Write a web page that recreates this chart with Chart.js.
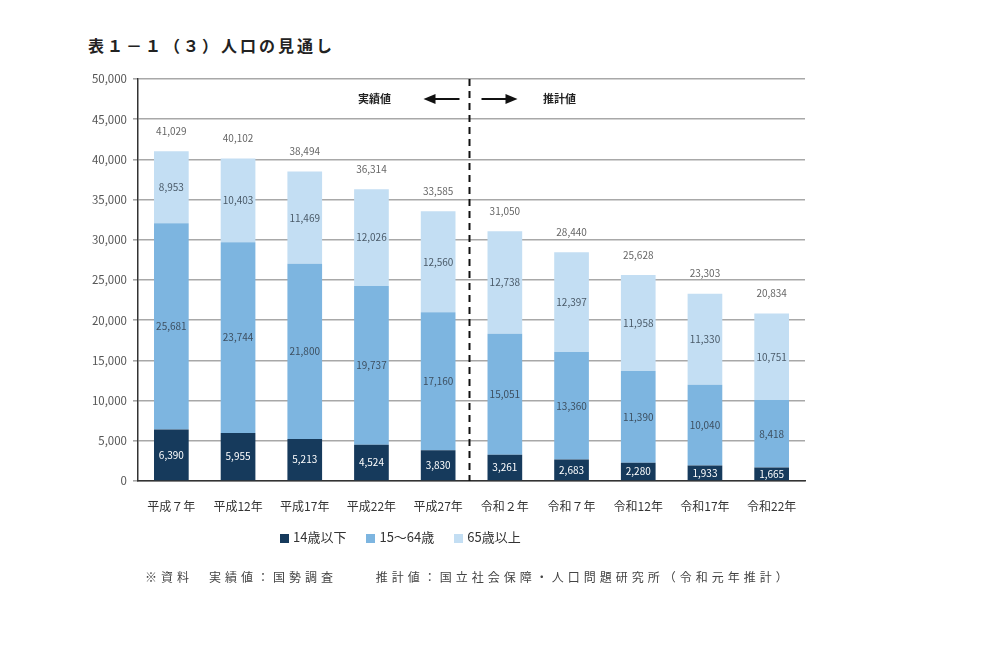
<!DOCTYPE html>
<html lang="ja">
<head>
<meta charset="utf-8">
<script src="https://cdn.jsdelivr.net/npm/chart.js@4"></script>
<style>
  body { margin: 0; background: #fff; font-family: "Noto Sans CJK JP", sans-serif; }
  #wrap { position: relative; width: 1000px; height: 662px; }
  #chart { position: absolute; left: 0; top: 0; }
  .title { position: absolute; left: 88px; top: 33px; font-size: 16px; letter-spacing: 3px; font-weight: bold; color: #222; }
  .legend { position: absolute; top: 527px; left: 280px; font-size: 13px; color: #333; display: flex; gap: 20px; }
  .legend span i { display: inline-block; width: 9px; height: 9px; margin-right: 4px; vertical-align: -1px; }
  .note { position: absolute; top: 568px; left: 145px; font-size: 12px; letter-spacing: 4px; color: #444; white-space: pre; }
</style>
</head>
<body>
<div id="wrap">
  <div class="title">表１－１（３）人口の見通し</div>
  <canvas id="chart" width="1000" height="662"></canvas>
  <div class="legend">
    <span><i style="background:#163a5c"></i>14歳以下</span>
    <span><i style="background:#7db5e0"></i>15～64歳</span>
    <span><i style="background:#c3def3"></i>65歳以上</span>
  </div>
  <div class="note">※資料　実績値：国勢調査　　 推計値：国立社会保障・人口問題研究所（令和元年推計）</div>
</div>
<script>
// データ
const nendo = ['平成７年', '平成12年', '平成17年', '平成22年', '平成27年', '令和２年', '令和７年', '令和12年', '令和17年', '令和22年'];
const nenshou = [6390, 5955, 5213, 4524, 3830, 3261, 2683, 2280, 1933, 1665];
const seisan = [25681, 23744, 21800, 19737, 17160, 15051, 13360, 11390, 10040, 8418];
const kourei = [8953, 10403, 11469, 12026, 12560, 12738, 12397, 11958, 11330, 10751];
const goukei = [41029, 40102, 38494, 36314, 33585, 31050, 28440, 25628, 23303, 20834];
const yTicks = [0, 5000, 10000, 15000, 20000, 25000, 30000, 35000, 40000, 45000, 50000];

const fmt = v => v.toLocaleString('en-US');
const fuente = '"Noto Sans CJK JP", sans-serif';

// 値ラベル・合計・区切り線
const etiquetas = {
  id: 'etiquetas',
  afterDatasetsDraw(chart) {
    const c = chart.ctx;
    const colores = ['#ffffff', '#3d4f60', '#4a5a68'];
    c.save();
    c.font = '10px ' + fuente;
    c.textAlign = 'center';
    c.textBaseline = 'middle';
    chart.data.datasets.forEach((ds, i) => {
      chart.getDatasetMeta(i).data.forEach((bar, j) => {
        c.fillStyle = colores[i];
        c.fillText(fmt(ds.data[j]), bar.x, (bar.y + bar.base) / 2);
      });
    });
    const top = chart.getDatasetMeta(2).data;
    c.fillStyle = '#666';
    top.forEach((bar, j) => c.fillText(fmt(goukei[j]), bar.x, bar.y - 20));

    // 実績値 / 推計値 区切り
    const xs = chart.scales.x;
    const xm = (xs.getPixelForValue(4) + xs.getPixelForValue(5)) / 2 - 2;
    const area = chart.chartArea;
    c.strokeStyle = '#111';
    c.lineWidth = 2;
    c.setLineDash([7, 5]);
    c.beginPath();
    c.moveTo(xm, area.top);
    c.lineTo(xm, area.bottom);
    c.stroke();
    c.setLineDash([]);

    const ya = area.top + 20;
    c.lineWidth = 2;
    c.fillStyle = '#111';
    // 左矢印
    c.beginPath(); c.moveTo(xm - 10, ya); c.lineTo(xm - 36, ya); c.stroke();
    c.beginPath(); c.moveTo(xm - 46, ya); c.lineTo(xm - 34, ya - 5); c.lineTo(xm - 34, ya + 5); c.closePath(); c.fill();
    // 右矢印
    c.beginPath(); c.moveTo(xm + 12, ya); c.lineTo(xm + 38, ya); c.stroke();
    c.beginPath(); c.moveTo(xm + 48, ya); c.lineTo(xm + 36, ya - 5); c.lineTo(xm + 36, ya + 5); c.closePath(); c.fill();

    c.font = 'bold 11px ' + fuente;
    c.fillStyle = '#222';
    c.fillText('実績値', xm - 95, ya);
    c.fillText('推計値', xm + 90, ya);
    c.restore();
  }
};

new Chart(document.getElementById('chart'), {
  type: 'bar',
  data: {
    labels: nendo,
    datasets: [
      { label: '14歳以下', data: nenshou, backgroundColor: '#163a5c' },
      { label: '15～64歳', data: seisan, backgroundColor: '#7db5e0' },
      { label: '65歳以上', data: kourei, backgroundColor: '#c3def3' }
    ]
  },
  options: {
    responsive: false,
    animation: false,
    layout: { padding: { left: 0, right: 195, top: 79, bottom: 141 } },
    datasets: { bar: { barPercentage: 0.52, categoryPercentage: 1 } },
    plugins: { legend: { display: false }, tooltip: { enabled: false } },
    scales: {
      x: {
        stacked: true,
        grid: { display: false, drawTicks: true },
        border: { color: '#333', width: 1.5 },
        ticks: { color: '#333', font: { size: 12, family: fuente }, padding: 10, maxRotation: 0, autoSkip: false },
        afterFit: s => { s.height = 40; }
      },
      y: {
        stacked: true,
        min: 0,
        max: 50000,
        afterBuildTicks: s => { s.ticks = yTicks.map(v => ({ value: v })); },
        grid: { color: '#a8a8a8', lineWidth: 1.6, tickLength: 5 },
        border: { color: '#333', width: 1.5 },
        ticks: { color: '#555', font: { size: 11.5, family: fuente }, padding: 6, callback: v => fmt(v) },
        afterFit: s => { s.width = 138; }
      }
    }
  },
  plugins: [etiquetas]
});
</script>
</body>
</html>
